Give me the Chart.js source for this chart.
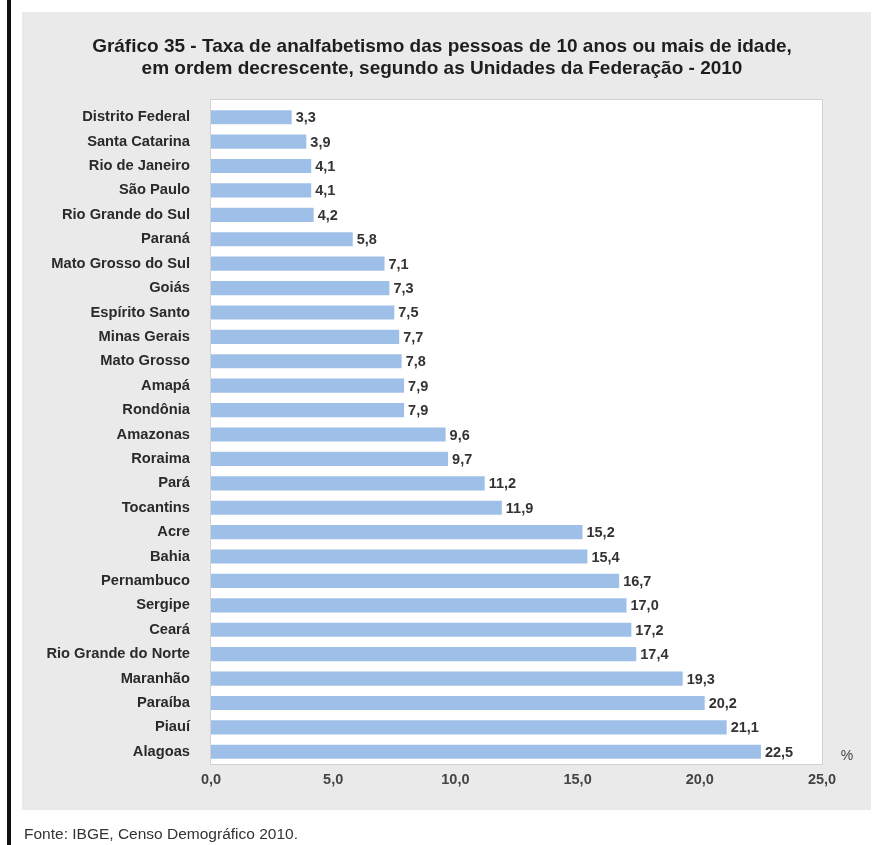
<!DOCTYPE html>
<html>
<head>
<meta charset="utf-8">
<script src="https://cdn.jsdelivr.net/npm/chart.js@4.4.0/dist/chart.umd.min.js"></script>
<style>
  html, body { margin: 0; padding: 0; background: #ffffff; }
  #wrap { position: relative; width: 880px; height: 845px; }
  canvas { display: block; }
</style>
</head>
<body>
<div id="wrap"><canvas id="c" width="880" height="845"></canvas></div>
<script>
const categories = [
  "Distrito Federal", "Santa Catarina", "Rio de Janeiro", "São Paulo", "Rio Grande do Sul",
  "Paraná", "Mato Grosso do Sul", "Goiás", "Espírito Santo", "Minas Gerais",
  "Mato Grosso", "Amapá", "Rondônia", "Amazonas", "Roraima",
  "Pará", "Tocantins", "Acre", "Bahia", "Pernambuco",
  "Sergipe", "Ceará", "Rio Grande do Norte", "Maranhão", "Paraíba",
  "Piauí", "Alagoas"
];
const rates = [
  3.3, 3.9, 4.1, 4.1, 4.2,
  5.8, 7.1, 7.3, 7.5, 7.7,
  7.8, 7.9, 7.9, 9.6, 9.7,
  11.2, 11.9, 15.2, 15.4, 16.7,
  17.0, 17.2, 17.4, 19.3, 20.2,
  21.1, 22.5
];
const xTicks = [0, 5, 10, 15, 20, 25];
const titleLines = [
  "Gráfico 35 - Taxa de analfabetismo das pessoas de 10 anos ou mais de idade,",
  "em ordem decrescente, segundo as Unidades da Federação - 2010"
];
const unitLabel = "%";
const sourceNote = "Fonte: IBGE, Censo Demográfico 2010.";

const FONT = "'Liberation Sans', Arial, sans-serif";
const fmt = v => v.toFixed(1).replace('.', ',');

const decor = {
  id: 'decor',
  beforeDraw(chart) {
    const ctx = chart.ctx;
    const a = chart.chartArea;
    ctx.save();
    ctx.fillStyle = '#ffffff';
    ctx.fillRect(0, 0, chart.width, chart.height);
    // left black rule
    ctx.fillStyle = '#111111';
    ctx.fillRect(7, 0, 4, chart.height);
    // gray panel
    ctx.fillStyle = '#eaeaea';
    ctx.fillRect(22, 12, 849, 798);
    // plot area (white box slightly taller than the category band at top)
    const top = a.top - 5;
    ctx.fillStyle = '#ffffff';
    ctx.fillRect(a.left, top, a.right - a.left, a.bottom - top);
    ctx.strokeStyle = '#d2d2d2';
    ctx.lineWidth = 1;
    ctx.strokeRect(a.left - 0.5, top - 0.5, a.right - a.left + 1, a.bottom - top + 1);
    ctx.restore();
  },
  afterDraw(chart) {
    const ctx = chart.ctx;
    const a = chart.chartArea;
    ctx.save();
    // title
    ctx.fillStyle = '#1e1e1e';
    ctx.font = "bold 19px " + FONT;
    ctx.textAlign = 'center';
    ctx.textBaseline = 'middle';
    ctx.fillText(titleLines[0], 442, 47);
    ctx.fillText(titleLines[1], 442, 69);
    // value labels
    ctx.font = "bold 14.5px " + FONT;
    ctx.fillStyle = '#333333';
    ctx.textAlign = 'left';
    const meta = chart.getDatasetMeta(0);
    meta.data.forEach((bar, i) => {
      ctx.fillText(fmt(rates[i]), bar.x + 4, bar.y + 1);
    });
    // unit
    ctx.font = "14px " + FONT;
    ctx.fillStyle = '#444444';
    ctx.textAlign = 'center';
    ctx.fillText(unitLabel, 847, a.bottom - 8);
    // source
    ctx.font = "15.5px " + FONT;
    ctx.fillStyle = '#333333';
    ctx.textAlign = 'left';
    ctx.fillText(sourceNote, 24, 835);
    ctx.restore();
  }
};

new Chart(document.getElementById('c'), {
  type: 'bar',
  data: {
    labels: categories,
    datasets: [{
      data: rates,
      backgroundColor: '#9ec0e8',
      borderWidth: 0,
      barPercentage: 0.58,
      categoryPercentage: 1.0
    }]
  },
  options: {
    indexAxis: 'y',
    responsive: false,
    animation: false,
    events: [],
    layout: { padding: { top: 105, right: 58, bottom: 51, left: 0 } },
    plugins: { legend: { display: false }, title: { display: false }, tooltip: { enabled: false } },
    scales: {
      x: {
        min: 0, max: 25,
        afterBuildTicks(scale) { scale.ticks = xTicks.map(v => ({ value: v })); },
        afterFit(scale) { scale.height = 30; },
        grid: { display: false, drawTicks: false },
        border: { display: false },
        ticks: {
          padding: 7,
          color: '#444444',
          font: { family: FONT, size: 14.5, weight: 'bold' },
          callback: v => fmt(v)
        }
      },
      y: {
        afterFit(scale) { scale.width = 211; },
        grid: { display: false, drawTicks: false },
        border: { display: false },
        ticks: {
          padding: 21,
          autoSkip: false,
          color: '#2a2a2a',
          font: { family: FONT, size: 14.7, weight: 'bold' }
        }
      }
    }
  },
  plugins: [decor]
});
</script>
</body>
</html>
